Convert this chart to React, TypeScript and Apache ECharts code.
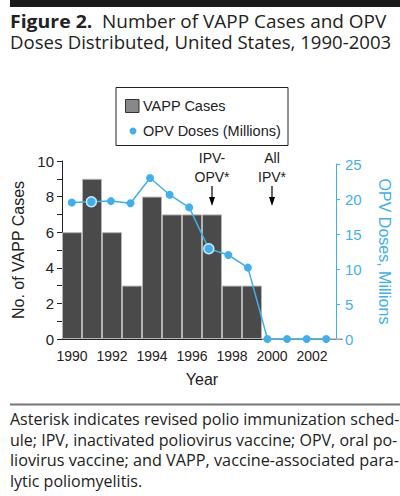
import React, { useEffect, useRef } from "react";
import * as echarts from "echarts";

const years = ["1990","1991","1992","1993","1994","1995","1996","1997","1998","1999","2000","2001","2002","2003"];
const vappCases = [6, 9, 6, 3, 8, 7, 7, 7, 3, 3, 0, 0, 0, 0];
const opvDoses = [19.5, 19.6, 19.7, 19.4, 23.0, 20.6, 18.8, 12.9, 12.0, 10.2, 0, 0, 0, 0];
const highlightedYears = ["1991", "1997"];
const annotations = [
  { year: "1997", label: "IPV-\nOPV*" },
  { year: "2000", label: "All\nIPV*" },
];
const titleBold = "Figure 2.";
const titleLine1 = "Number of VAPP Cases and OPV";
const titleLine2 = "Doses Distributed, United States, 1990-2003";
const footnoteLines = [
  "Asterisk indicates revised polio immunization sched-",
  "ule; IPV, inactivated poliovirus vaccine; OPV, oral po-",
  "liovirus vaccine; and VAPP, vaccine-associated para-",
  "lytic poliomyelitis.",
];
// slight horizontal stretch per footnote line (justified text)
const footnoteStretch = [1, 1, 1.015, 1];

const BLUE = "#3fb0ef";
const DARK = "#222222";
const HEL = "'Liberation Sans', Arial, Helvetica, sans-serif";
const SANS = "'Open Sans', 'Noto Sans', sans-serif";

export default function App() {
  const ref = useRef<HTMLDivElement>(null);
  useEffect(() => {
    document.body.style.margin = "0";
    if (!ref.current) return;
    const chart = echarts.init(ref.current, null, { renderer: "svg" });
    chart.setOption({
      animation: false,
      grid: [
        { left: 62, right: 58, top: 161, height: 178 },
        { left: 62, right: 58, top: 164, height: 175 },
      ],
      xAxis: [
        {
          type: "category",
          gridIndex: 0,
          data: years,
          boundaryGap: true,
          name: "Year",
          nameLocation: "middle",
          nameGap: 32,
          nameTextStyle: { fontFamily: HEL, fontSize: 16, color: DARK },
          axisLine: { lineStyle: { color: DARK, width: 1 } },
          axisTick: { alignWithLabel: true, interval: 0, length: 5, lineStyle: { color: DARK } },
          axisLabel: { interval: 1, fontFamily: HEL, fontSize: 14, color: DARK, margin: 10 },
          splitLine: { show: false },
        },
        {
          type: "category",
          gridIndex: 1,
          data: years,
          boundaryGap: true,
          show: false,
        },
      ],
      yAxis: [
        {
          type: "value",
          gridIndex: 0,
          min: 0,
          max: 10,
          interval: 2,
          name: "No. of VAPP Cases",
          nameLocation: "middle",
          nameRotate: 90,
          nameGap: 29,
          nameTextStyle: { fontFamily: HEL, fontSize: 16, color: DARK },
          axisLine: { show: true, lineStyle: { color: DARK, width: 1 } },
          axisTick: { show: true, length: 5, lineStyle: { color: DARK } },
          minorTick: { show: true, splitNumber: 2, length: 5, lineStyle: { color: DARK } },
          axisLabel: { fontFamily: HEL, fontSize: 15, color: DARK, margin: 8 },
          splitLine: { show: false },
          minorSplitLine: { show: false },
        },
        {
          type: "value",
          gridIndex: 1,
          position: "right",
          min: 0,
          max: 25,
          interval: 5,
          name: "OPV Doses, Millions",
          nameLocation: "middle",
          nameRotate: -90,
          nameGap: 40,
          nameTextStyle: { fontFamily: HEL, fontSize: 16, color: BLUE },
          axisLine: { show: true, lineStyle: { color: BLUE, width: 1 } },
          axisTick: { show: true, length: 4, lineStyle: { color: BLUE } },
          axisLabel: { fontFamily: HEL, fontSize: 15, color: BLUE, margin: 9 },
          splitLine: { show: false },
        },
      ],
      series: [
        {
          name: "VAPP Cases",
          type: "bar",
          xAxisIndex: 0,
          yAxisIndex: 0,
          data: vappCases,
          barCategoryGap: "0%",
          itemStyle: { color: "#4a4a4a", borderColor: "#b4b4b4", borderWidth: 1 },
        },
        {
          name: "OPV Doses (Millions)",
          type: "line",
          xAxisIndex: 1,
          yAxisIndex: 1,
          data: opvDoses.map((v, i) =>
            highlightedYears.includes(years[i])
              ? { value: v, symbolSize: 10, itemStyle: { borderColor: "#cfe9f8", borderWidth: 1.5 } }
              : v
          ),
          symbol: "circle",
          symbolSize: 8,
          lineStyle: { color: BLUE, width: 1.5 },
          itemStyle: { color: BLUE },
          z: 5,
        },
      ],
    });

    const graphics: any[] = [
      { type: "rect", shape: { x: 10, y: 0, width: 390, height: 7 }, style: { fill: "#1a1a1a" } },
      // title
      { type: "text", x: 10, y: 12, scaleX: 1.045, style: { text: titleBold, font: "bold 18.6px " + SANS, fill: DARK, textVerticalAlign: "top" } },
      { type: "text", x: 102, y: 12, scaleX: 1.02, style: { text: titleLine1, font: "18.6px " + SANS, fill: DARK, textVerticalAlign: "top" } },
      { type: "text", x: 10, y: 31.5, style: { text: titleLine2, font: "18.6px " + SANS, fill: DARK, textVerticalAlign: "top" } },
      // footnote rule
      { type: "rect", shape: { x: 10, y: 403.5, width: 390, height: 2 }, style: { fill: "#777777" } },
      // legend
      { type: "rect", shape: { x: 116, y: 87.5, width: 172, height: 58 }, style: { fill: "#fff", stroke: DARK, lineWidth: 1 } },
      { type: "rect", shape: { x: 125.5, y: 99.5, width: 13.5, height: 13 }, style: { fill: "#888888", stroke: "#333", lineWidth: 1 } },
      { type: "text", x: 143, y: 106, style: { text: "VAPP Cases", font: "14.5px " + HEL, fill: DARK, textVerticalAlign: "middle" } },
      { type: "circle", shape: { cx: 133, cy: 131, r: 3.5 }, style: { fill: BLUE } },
      { type: "text", x: 143, y: 131, style: { text: "OPV Doses (Millions)", font: "14.5px " + HEL, fill: DARK, textVerticalAlign: "middle" } },
    ];
    footnoteLines.forEach((line, i) => {
      graphics.push({
        type: "text",
        x: 10,
        y: 411 + i * 20.7,
        scaleX: footnoteStretch[i],
        style: { text: line, font: "16px " + SANS, fill: DARK, textVerticalAlign: "top" },
      });
    });
    annotations.forEach((a) => {
      const px = chart.convertToPixel({ xAxisIndex: 0 }, a.year) as number;
      graphics.push({
        type: "text",
        x: px,
        y: 149,
        style: {
          text: a.label,
          font: "14px " + HEL,
          fill: DARK,
          textAlign: "center",
          textVerticalAlign: "top",
          lineHeight: 18.5,
        },
      });
      graphics.push({ type: "line", shape: { x1: px, y1: 186, x2: px, y2: 199 }, style: { stroke: "#000", lineWidth: 1.2 } });
      graphics.push({ type: "polygon", shape: { points: [[px - 3, 197], [px + 3, 197], [px, 206]] }, style: { fill: "#000" } });
    });
    chart.setOption({ graphic: graphics });

    return () => chart.dispose();
  }, []);
  return <div ref={ref} style={{ width: 400, height: 496, position: "absolute", left: 0, top: 0 }} />;
}
